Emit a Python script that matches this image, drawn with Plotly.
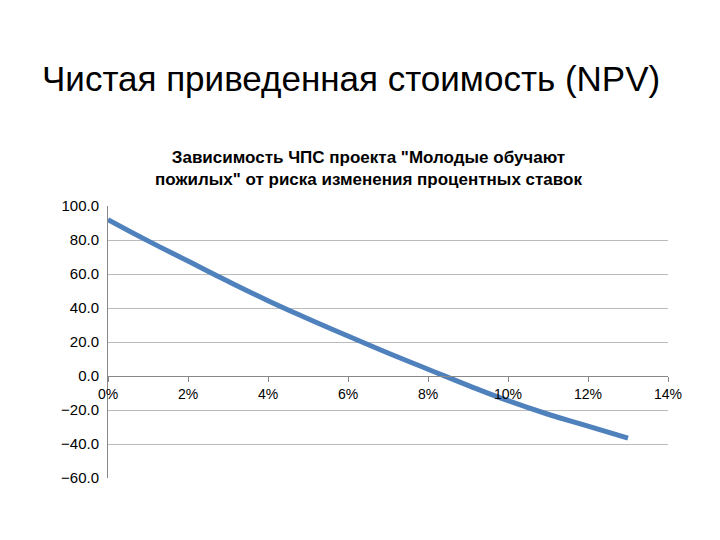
import plotly.graph_objects as go

rates = [0, 0.01, 0.02, 0.03, 0.04, 0.05, 0.06, 0.07, 0.08, 0.09, 0.10, 0.11, 0.12, 0.13]
npv = [92, 79.5, 67.6, 55.7, 44.3, 33.7, 23.5, 13.5, 4, -5.5, -14.5, -22.5, -29.5, -36.5]
x_ticks = [0, 0.02, 0.04, 0.06, 0.08, 0.10, 0.12, 0.14]
x_labels = ["0%", "2%", "4%", "6%", "8%", "10%", "12%", "14%"]
y_ticks = [-60, -40, -20, 0, 20, 40, 60, 80, 100]

fig = go.Figure(go.Scatter(x=rates, y=npv, mode="lines",
                           line=dict(color="#4F81BD", width=5, shape="spline", smoothing=1.3)))
font = "Liberation Sans, Open Sans, sans-serif"
fig.update_layout(
    width=720, height=540, plot_bgcolor="white", paper_bgcolor="white",
    margin=dict(l=100, r=60, t=198, b=70, autoexpand=False), showlegend=False,
    font=dict(family=font, color="#000"),
    xaxis=dict(range=[0, 0.14], tickvals=x_ticks, ticktext=x_labels, anchor="free",
               position=0.375, showgrid=False, showline=True, linecolor="#888",
               ticks="outside", ticklen=5, tickcolor="#888", tickfont=dict(size=14),
               zeroline=False, automargin=False),
    yaxis=dict(range=[-60, 100], tickvals=y_ticks, tickformat=".1f", showgrid=True,
               gridcolor="#bbb", showline=True, linecolor="#888", zeroline=False,
               tickfont=dict(size=15), ticks="outside", ticklen=5, tickcolor="rgba(0,0,0,0)",
               automargin=False),
)
fig.add_annotation(text="Чистая приведенная стоимость (NPV)", xref="paper", yref="paper",
                   x=-0.122, y=1.0, yshift=128, xanchor="left", yanchor="middle",
                   showarrow=False, font=dict(size=35, family=font))
fig.add_annotation(text="<b>Зависимость ЧПС проекта \"Молодые обучают<br>пожилых\" от риска изменения процентных ставок</b>",
                   xref="paper", yref="paper", x=0.465, y=1.0, yshift=38,
                   xanchor="center", yanchor="middle", showarrow=False,
                   font=dict(size=17, family=font))
fig.write_html("out.html")
